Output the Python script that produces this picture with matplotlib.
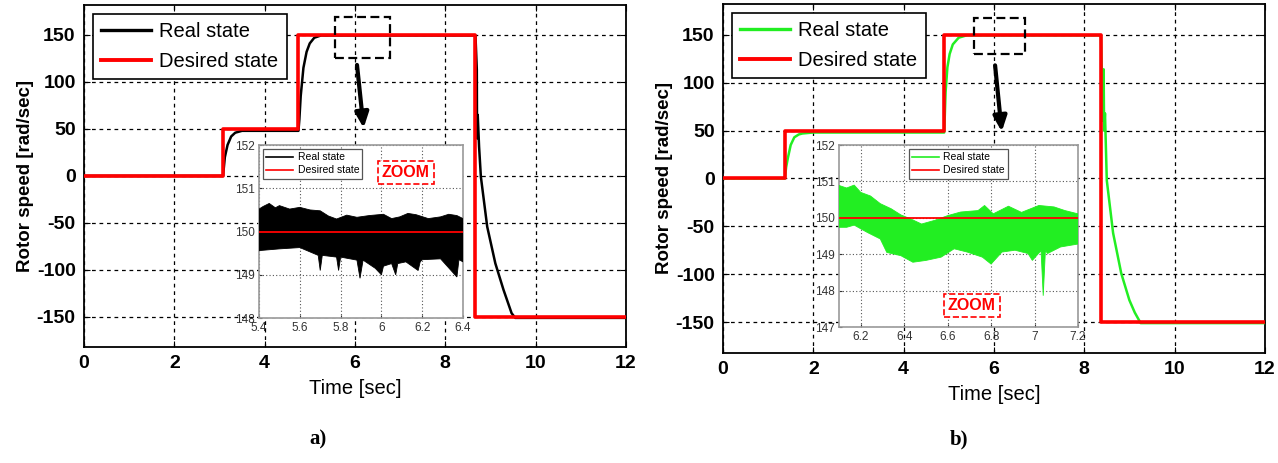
import matplotlib.pyplot as plt
from matplotlib.lines import Line2D
from matplotlib.patches import Rectangle

# ---- panel a) : desired / real rotor speed
t_ref_a = [0, 3.08, 3.08, 4.74, 4.74, 8.67, 8.67, 12]
w_ref_a = [0, 0, 50, 50, 150, 150, -150, -150]
t_real_a = [0, 3.08, 3.12, 3.18, 3.26, 3.35, 3.5, 4.75, 4.77, 4.80, 4.86, 4.93, 5.0, 5.1, 5.25,
            8.67, 8.70, 8.705, 8.72, 8.75, 8.79, 8.93, 9.11, 9.29, 9.47, 9.55, 12]
w_real_a = [0, 0, 20, 33, 42, 46, 48, 48, 60, 85, 115, 132, 141, 147, 149.5,
            149.5, 113, 40, 65, 31, -1, -54, -93, -121, -146, -151, -151]

# zoom a) : envelope of the noisy real speed around 150
t_up_a = [5.4, 5.42, 5.45, 5.48, 5.5, 5.55, 5.6, 5.65, 5.7, 5.74, 5.78, 5.83, 5.88, 5.94, 6.01,
          6.05, 6.09, 6.13, 6.17, 6.23, 6.29, 6.33, 6.37, 6.4]
w_up_a = [150.52, 150.58, 150.65, 150.55, 150.6, 150.52, 150.56, 150.5, 150.48, 150.36, 150.29,
          150.38, 150.33, 150.37, 150.4, 150.3, 150.34, 150.42, 150.39, 150.3, 150.34, 150.4, 150.37, 150.3]
t_lo_a = [5.4, 5.5, 5.6, 5.69, 5.7, 5.71, 5.78, 5.79, 5.80, 5.88, 5.895, 5.91, 5.97, 6.0, 6.01,
          6.05, 6.07, 6.08, 6.12, 6.18, 6.19, 6.2, 6.29, 6.37, 6.38, 6.4]
w_lo_a = [149.56, 149.6, 149.63, 149.45, 149.1, 149.45, 149.41, 149.1, 149.41, 149.34, 148.92, 149.34,
          149.15, 149.0, 149.2, 149.26, 149.0, 149.26, 149.3, 149.1, 149.3, 149.35, 149.37, 148.95, 149.35, 149.3]

# ---- panel b)
t_ref_b = [0, 1.37, 1.37, 4.90, 4.90, 8.37, 8.37, 12]
w_ref_b = [0, 0, 50, 50, 150, 150, -150, -150]
t_real_b = [0, 1.37, 1.40, 1.44, 1.50, 1.58, 1.68, 1.76, 2.0, 4.90, 4.93, 4.97, 5.02, 5.09, 5.22, 5.4,
            8.37, 8.42, 8.43, 8.44, 8.46, 8.50, 8.64, 8.82, 9.0, 9.12, 9.25, 12]
w_real_b = [0, 0, 12, 22, 35, 43, 46, 47, 48, 48, 90, 116, 130, 140, 147, 149.5,
            149.5, 60, 114, 50, 68, -2, -57, -99, -127, -140, -151, -151]

t_up_b = [6.1, 6.135, 6.17, 6.2, 6.245, 6.29, 6.34, 6.385, 6.43, 6.48, 6.54, 6.6, 6.66, 6.74, 6.77,
          6.81, 6.88, 6.94, 7.02, 7.09, 7.14, 7.2]
w_up_b = [150.89, 150.82, 150.9, 150.7, 150.6, 150.39, 150.25, 150.08, 149.97, 149.83, 149.93, 150.06,
          150.16, 150.2, 150.34, 150.11, 150.32, 150.15, 150.34, 150.3, 150.2, 150.11]
t_lo_b = [6.1, 6.135, 6.17, 6.23, 6.29, 6.32, 6.385, 6.44, 6.5, 6.57, 6.63, 6.69, 6.76, 6.8, 6.85,
          6.91, 6.97, 6.99, 7.03, 7.04, 7.05, 7.06, 7.12, 7.2]
w_lo_b = [149.74, 149.74, 149.8, 149.6, 149.42, 149.05, 148.96, 148.78, 148.83, 148.92, 149.15, 149.06,
          148.92, 148.73, 149.06, 149.11, 149.02, 148.83, 149.1, 147.86, 149.1, 149.02, 149.2, 149.28]

plt.rcParams['font.family'] = ['Liberation Sans', 'DejaVu Sans']
plt.rcParams['axes.unicode_minus'] = False

fig = plt.figure(figsize=(12.78, 4.63), dpi=100)


def main_axes(rect, t_ref, w_ref, t_real, w_real, col, box, arrow):
    ax = fig.add_axes(rect)
    ax.plot(t_real, w_real, color=col, lw=1.8, zorder=3)
    ax.plot(t_ref, w_ref, color='#ff0000', lw=2.6, zorder=4)
    ax.set_xlim(0, 12)
    ax.set_ylim(-182, 182)
    ax.set_xticks(range(0, 13, 2))
    ax.set_yticks([-150, -100, -50, 0, 50, 100, 150])
    ax.grid(True, color='black', ls=(0, (3, 3)), lw=0.9)
    ax.tick_params(direction='in', top=True, right=True, length=4, labelsize=14, pad=6)
    for lab in ax.get_xticklabels() + ax.get_yticklabels():
        lab.set_weight('bold')
    for s in ax.spines.values():
        s.set_linewidth(1.3)
    ax.set_xlabel('Time [sec]', fontsize=14.5, labelpad=5)
    ax.set_ylabel('Rotor speed [rad/sec]', fontsize=13.5, fontweight='bold', labelpad=2)
    h = [Line2D([], [], color=col, lw=2.4), Line2D([], [], color='#ff0000', lw=2.8)]
    leg = ax.legend(h, ['Real state', 'Desired state'], loc='upper left', fontsize=14.5,
                    fancybox=False, framealpha=1, edgecolor='black', handlelength=2.5,
                    borderaxespad=0.45, borderpad=0.4, labelspacing=0.55, handletextpad=0.4)
    leg.get_frame().set_linewidth(1.2)
    leg.set_zorder(6)
    x0, y0, x1, y1 = box
    ax.add_patch(Rectangle((x0, y0), x1 - x0, y1 - y0, fill=False, ec='black',
                           ls=(0, (4, 2)), lw=1.6, zorder=5))
    ax.annotate('', xy=arrow[1], xytext=arrow[0],
                arrowprops=dict(arrowstyle='-|>,head_length=0.9,head_width=0.4',
                                color='black', lw=3), zorder=5)
    return ax


def inset_axes(rect, t_up, w_up, t_lo, w_lo, t_ref, w_ref, col, xlim, ylim, xticks,
               yticks, legloc, zoom_xy):
    ax = fig.add_axes(rect, zorder=10)
    ax.fill(t_up + t_lo[::-1], w_up + w_lo[::-1], color=col, lw=0.6, zorder=3)
    ax.plot(t_ref, w_ref, color='#ff0000', lw=1.3, zorder=4)
    ax.set_xlim(*xlim)
    ax.set_ylim(*ylim)
    ax.set_xticks(xticks)
    ax.set_yticks(yticks)
    ax.set_xticklabels([('%g' % v) for v in xticks])
    ax.grid(True, color='#555555', ls=(0, (1, 2)), lw=0.8)
    ax.tick_params(direction='in', length=2, labelsize=8.5, colors='#333333', pad=3)
    for s in ax.spines.values():
        s.set_color('#999999')
        s.set_linewidth(1.2)
    h = [Line2D([], [], color=col, lw=1.2), Line2D([], [], color='#ff0000', lw=1.2)]
    leg = ax.legend(h, ['Real state', 'Desired state'], loc=legloc, fontsize=7.5,
                    fancybox=False, framealpha=1, edgecolor='#555555', handlelength=2.6,
                    borderpad=0.3, labelspacing=0.3, handletextpad=0.4, borderaxespad=0.4)
    leg.get_frame().set_linewidth(0.9)
    ax.text(zoom_xy[0], zoom_xy[1], 'ZOOM', color='#ff0000', fontsize=11.5, fontweight='bold',
            ha='center', va='center', zorder=6,
            bbox=dict(boxstyle='square,pad=0.25', fc='white', ec='#ff0000', ls='--', lw=1.2))
    return ax


main_axes([0.0657, 0.2505, 0.424, 0.739], t_ref_a, w_ref_a, t_real_a, w_real_a, 'black',
          (5.55, 125.5, 6.77, 169), ((6.04, 121), (6.2, 48)))
main_axes([0.5657, 0.238, 0.424, 0.753], t_ref_b, w_ref_b, t_real_b, w_real_b, '#22ee22',
          (5.57, 130, 6.68, 168), ((6.02, 121), (6.18, 46)))

inset_axes([0.2027, 0.313, 0.1596, 0.3737], t_up_a, w_up_a, t_lo_a, w_lo_a, t_ref_a, w_ref_a,
           'black', (5.4, 6.4), (148, 152), [5.4, 5.6, 5.8, 6.0, 6.2, 6.4], [148, 149, 150, 151, 152],
           'upper left', (6.12, 151.37))
inset_axes([0.6565, 0.2937, 0.187, 0.393], t_up_b, w_up_b, t_lo_b, w_lo_b, t_ref_b, w_ref_b,
           '#22ee22', (6.1, 7.2), (147, 152), [6.2, 6.4, 6.6, 6.8, 7.0, 7.2],
           [147, 148, 149, 150, 151, 152], 'upper center', (6.71, 147.58))

fig.text(0.249, 0.05, 'a)', family='Liberation Serif', fontweight='bold', fontsize=15,
         ha='center', va='center')
fig.text(0.75, 0.05, 'b)', family='Liberation Serif', fontweight='bold', fontsize=15,
         ha='center', va='center')

fig.savefig('out.png', dpi=100)
